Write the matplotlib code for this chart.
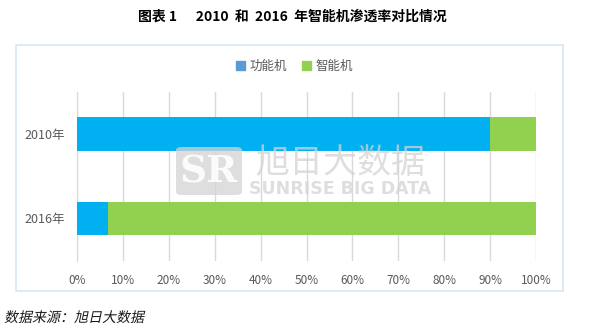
import matplotlib.pyplot as plt
from matplotlib.patches import FancyBboxPatch, Patch, PathPatch
from matplotlib.textpath import TextPath
from matplotlib.font_manager import FontProperties
from matplotlib.transforms import Affine2D
from matplotlib.ticker import PercentFormatter

plt.rcParams['font.family'] = ['Noto Sans CJK SC', 'DejaVu Sans']

years = ['2010年', '2016年']
feature_phone = [90.0, 6.7]
smart_phone = [10.0, 93.3]
xticks = list(range(0, 101, 10))

fig = plt.figure(figsize=(5.89, 3.32), dpi=100)
W, H = 589, 332

# outer frame
frame = FancyBboxPatch((16 / W, 1 - 291 / H), (563 - 16) / W, (291 - 45) / H,
                       boxstyle='square,pad=0', transform=fig.transFigure,
                       fill=False, edgecolor='#DCE6F2', linewidth=1.2)
fig.patches.append(frame)

fig.text(0.497, 1 - 17 / H, '图表 1      2010  和  2016  年智能机渗透率对比情况',
         ha='center', va='center', fontsize=10, fontweight='bold', color='#000000')

ax = fig.add_axes([77 / W, 1 - 260.5 / H, (536 - 77) / W, (260.5 - 92) / H])
y = range(len(years))
ax.barh(y, feature_phone, height=0.4, color='#00B0F0', zorder=3)
ax.barh(y, smart_phone, left=feature_phone, height=0.4, color='#92D050', zorder=3)

ax.set_xlim(0, 100)
ax.set_ylim(1.5, -0.5)
ax.set_xticks(xticks)
ax.xaxis.set_major_formatter(PercentFormatter(decimals=0))
ax.set_yticks(list(y))
ax.set_yticklabels(years)
ax.tick_params(axis='x', length=0, labelsize=8.5, colors='#595959', pad=10)
ax.tick_params(axis='y', length=0, labelsize=9, colors='#595959', pad=9)
ax.grid(axis='x', color='#D9D9D9', linewidth=1, zorder=0)
for s in ['top', 'right', 'bottom']:
    ax.spines[s].set_visible(False)
ax.spines['left'].set_color('#D9D9D9')

handles = [Patch(color='#5B9BD5', label='功能机'), Patch(color='#92D050', label='智能机')]
fig.legend(handles=handles, loc='center', bbox_to_anchor=(0.5, 1 - 66 / H), ncol=2,
           frameon=False, fontsize=9, handlelength=0.7, handleheight=0.7,
           handletextpad=0.4, columnspacing=1.2, labelcolor='#595959')

# watermark logo
wm = '#D4D4D4'
box = FancyBboxPatch((176 / W, 1 - 195 / H), 66 / W, 48 / H,
                     boxstyle='round,pad=0,rounding_size=0.01', transform=fig.transFigure,
                     facecolor=wm, edgecolor='none', alpha=0.75, zorder=1)
fig.patches.append(box)
fig.text(209 / W, 1 - 172 / H, 'SR', ha='center', va='center', fontsize=27,
         fontweight='bold', family='DejaVu Serif', color='white', alpha=0.9)
fig.text(340 / W, 1 - 163 / H, '旭日大数据', ha='center', va='center', fontsize=24.5,
         color=wm, alpha=0.75)
fig.text(340 / W, 1 - 189 / H, 'SUNRISE BIG DATA', ha='center',
         va='center', fontsize=12.5, fontweight='bold', family='DejaVu Sans',
         color=wm, alpha=0.75)

# italic source note, slanted by hand
fp = FontProperties(family='Noto Sans CJK SC')
tp = TextPath((0, 0), '数据来源：旭日大数据', size=14, prop=fp)
tr = Affine2D().skew_deg(12, 0).translate(4, H - 322)
fig.patches.append(PathPatch(tr.transform_path(tp), transform=None,
                             facecolor='#1a1a1a', edgecolor='none'))

fig.savefig('out.png', dpi=100)
